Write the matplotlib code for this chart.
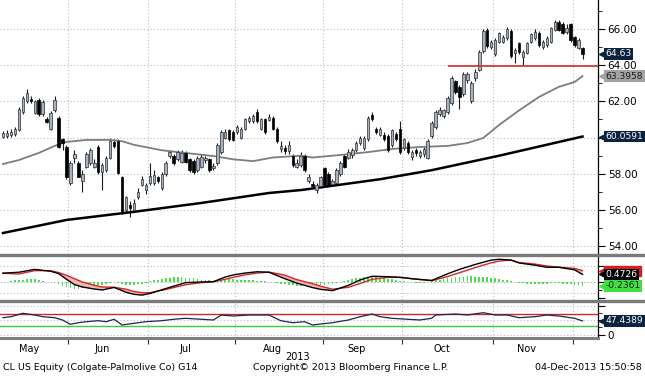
import matplotlib
matplotlib.use("Agg")
import matplotlib.pyplot as plt
import matplotlib.transforms as mtransforms
from matplotlib.lines import Line2D
from matplotlib.patches import Rectangle
import numpy as np
import pandas as pd

# trading days shown (8 May 2013 - 4 Dec 2013, US market holidays removed)
holidays = pd.to_datetime(["2013-05-27", "2013-07-04", "2013-09-02", "2013-11-28"])
dates = pd.bdate_range("2013-05-08", "2013-12-04")
dates = dates[~dates.isin(holidays)]

# daily OHLC
opens = [60.05, 60.1, 60.15, 60.2, 60.4, 61.4, 62.0, 62.15, 61.35, 62.05, 61.3, 61.0, 60.5, 61.5, 61.1, 59.9,
         59.5, 57.5, 58.9, 58.6, 57.6, 58.4, 58.6, 58.4, 59.5, 58.1, 58.2, 58.9, 59.75, 59.8, 57.8,
         56.0, 56.3, 56.0, 56.7, 57.4, 57.1, 57.5, 57.5, 57.8, 57.2, 58.0, 59.0, 59.0, 58.8, 58.65, 59.15,
         58.8, 58.7, 58.2, 58.4, 58.75, 58.8, 58.3, 58.6, 59.2, 60.0, 60.4, 60.3, 60.3,
         60.0, 60.5, 60.9, 60.9, 61.4, 60.5, 61.0, 60.95, 61.1, 60.5, 59.35, 59.4, 59.25, 59.0, 58.4,
         58.5, 59.0, 57.6, 57.45, 57.1, 57.3, 58.3, 58.0, 57.45, 57.5, 58.0, 59.0, 58.9, 59.05, 59.3,
         59.7, 59.4, 59.9, 61.25, 60.5, 60.15, 60.15, 60.1, 59.6, 60.2, 60.5, 59.4, 59.7, 58.95, 59.3,
         59.0, 59.1, 58.9, 60.1, 60.6, 61.3, 61.2, 61.4, 61.9, 63.1, 62.8, 62.4, 63.2, 62.0, 63.3,
         63.75, 64.8, 65.95, 65.0, 64.6, 65.3, 65.3, 65.5, 65.9, 64.7, 65.2, 64.45, 64.7, 65.3, 65.5,
         65.8, 65.0, 65.1, 65.3, 65.95, 66.4, 66.3, 65.85, 66.3, 65.55, 64.95, 64.95]
highs = [60.35, 60.4, 60.45, 60.6, 61.7, 62.3, 62.7, 62.3, 62.1, 62.2, 62.05, 61.15, 61.45, 62.3, 61.2, 60.0,
         59.6, 58.7, 59.3, 58.7, 58.2, 59.2, 59.4, 58.8, 59.6, 58.6, 59.0, 59.95, 59.9, 59.9, 57.9,
         56.8, 56.5, 56.6, 57.2, 57.9, 57.5, 58.6, 58.2, 57.9, 58.1, 58.7, 59.3, 59.1, 59.3, 59.3, 59.25,
         58.9, 58.8, 59.0, 59.1, 59.0, 58.9, 58.6, 59.7, 60.4, 60.5, 60.5, 60.4, 60.7,
         60.6, 61.1, 61.2, 61.3, 61.6, 61.1, 61.1, 61.3, 61.2, 60.6, 59.8, 59.6, 59.8, 59.1, 58.8,
         59.2, 59.1, 58.0, 57.6, 57.5, 57.9, 58.4, 58.1, 57.7, 58.3, 58.7, 59.1, 59.35, 59.4, 59.8,
         60.1, 60.1, 61.2, 61.4, 60.6, 60.6, 60.3, 60.2, 60.5, 60.3, 60.9, 60.0, 59.8, 59.3, 59.4,
         59.3, 59.5, 59.9, 60.9, 61.5, 61.7, 61.6, 62.3, 63.4, 63.2, 62.9, 63.6, 63.6, 63.1, 63.8,
         64.85, 66.0, 66.05, 65.4, 65.5, 65.85, 65.65, 66.1, 66.0, 64.95, 65.3, 64.85, 65.3, 65.8, 66.0,
         65.9, 65.4, 65.6, 66.1, 66.5, 66.5, 66.4, 66.3, 66.35, 65.6, 65.5, 65.0]
lows = [59.95, 60.0, 60.05, 60.1, 60.35, 61.3, 61.9, 61.9, 61.3, 61.2, 61.2, 60.8, 60.4, 61.4, 59.4, 59.3,
        57.7, 57.4, 58.6, 57.8, 57.0, 58.3, 58.5, 58.3, 58.0, 57.1, 58.1, 58.8, 59.4, 58.0, 55.8,
        55.9, 55.6, 55.9, 56.6, 57.3, 56.9, 57.4, 57.4, 57.5, 57.1, 57.9, 58.9, 58.5, 58.7, 58.6, 58.6,
        58.1, 58.0, 58.1, 58.3, 58.6, 58.1, 58.2, 58.5, 59.1, 59.9, 59.8, 59.8, 60.2,
        59.9, 60.4, 60.8, 60.8, 60.8, 60.4, 60.2, 60.9, 60.4, 59.7, 59.2, 59.1, 59.1, 58.4, 58.3,
        58.4, 58.1, 57.5, 57.2, 56.95, 57.2, 57.3, 57.3, 57.3, 57.4, 57.9, 58.3, 58.8, 58.9, 59.2,
        59.6, 59.3, 59.8, 60.9, 60.2, 60.1, 59.8, 59.2, 59.5, 59.8, 59.1, 59.3, 59.1, 58.75, 59.0,
        58.9, 58.95, 58.8, 60.0, 60.5, 61.2, 61.1, 61.3, 61.8, 62.4, 61.6, 62.3, 63.0, 61.9, 63.1,
        63.7, 64.7, 64.95, 64.9, 64.5, 65.2, 65.2, 65.4, 64.4, 64.1, 64.6, 64.0, 64.6, 65.2, 65.4,
        65.0, 64.9, 65.0, 65.2, 65.9, 65.9, 65.7, 65.7, 65.3, 65.0, 64.9, 64.35]
closes = [60.25, 60.25, 60.3, 60.45, 61.6, 62.2, 62.45, 62.0, 62.0, 61.3, 61.95, 60.85, 61.35, 62.05, 59.5, 59.7,
          57.8, 58.6, 59.1, 57.85, 58.0, 59.1, 59.3, 58.6, 58.1, 58.5, 58.9, 59.8, 59.55, 58.05, 55.9,
          56.7, 56.1, 56.4, 57.0, 57.7, 57.4, 57.9, 57.95, 57.6, 58.0, 58.6, 59.2, 58.6, 59.2, 59.15, 58.65,
          58.2, 58.1, 58.9, 58.95, 58.9, 58.2, 58.45, 59.6, 60.3, 60.3, 59.9, 59.85, 60.6,
          60.5, 61.0, 61.1, 61.2, 60.9, 61.0, 60.3, 61.15, 60.5, 59.8, 59.55, 59.25, 59.6, 58.5, 58.6,
          59.0, 58.2, 57.8, 57.3, 57.4, 57.8, 57.4, 57.4, 57.6, 58.2, 58.6, 58.4, 59.2, 59.3, 59.7,
          60.0, 60.0, 61.1, 61.0, 60.3, 60.45, 59.9, 59.3, 60.4, 59.9, 59.2, 59.9, 59.2, 59.2, 59.15,
          59.2, 59.35, 59.8, 60.8, 61.4, 61.55, 61.5, 62.2, 63.3, 62.5, 62.25, 63.5, 63.5, 63.0, 63.6,
          64.75, 65.9, 65.05, 65.3, 65.4, 65.75, 65.55, 66.0, 64.5, 64.85, 64.75, 64.75, 65.2, 65.7, 65.85,
          65.1, 65.3, 65.5, 66.05, 66.4, 65.95, 65.8, 66.05, 65.4, 65.1, 65.4, 64.63]

# moving averages (sparse readings: day index, value)
ma_grey_idx = [0, 4, 9, 13, 16, 21, 27, 30, 33, 40, 46, 53, 58, 63, 68, 75, 78, 85, 92, 98, 105, 112,
               117, 121, 125, 130, 135, 140, 144, 146]
ma_grey_val = [58.54, 58.76, 59.15, 59.54, 59.76, 59.87, 59.87, 59.8, 59.6, 59.3, 59.15, 58.98, 58.8,
               58.7, 58.9, 59.0, 58.9, 59.04, 59.2, 59.37, 59.48, 59.54, 59.7, 59.98, 60.7, 61.5, 62.24,
               62.8, 63.07, 63.3958]
ma_black_idx = [0, 16, 33, 50, 67, 75, 95, 108, 125, 146]
ma_black_val = [54.73, 55.45, 55.9, 56.39, 56.94, 57.1, 57.7, 58.2, 59.0, 60.0591]
support_level = 63.95
support_start = 112

# MACD panel
macd_idx = [0, 4, 8, 12, 14, 16, 18, 20, 23, 25, 28, 31, 33, 35, 37, 41, 46, 50, 53, 56, 58, 61, 64, 67,
            71, 74, 78, 80, 83, 87, 90, 93, 97, 100, 104, 108, 112, 115, 119, 123, 125, 128, 130, 134,
            137, 140, 144, 146]
macd_val = [0.55, 0.61, 0.79, 0.67, 0.53, 0.17, -0.16, -0.31, -0.44, -0.50, -0.34, -0.64, -0.77, -0.82,
            -0.72, -0.41, -0.04, 0.0, 0.02, 0.31, 0.44, 0.56, 0.64, 0.61, 0.21, -0.07, -0.35, -0.46,
            -0.54, -0.21, 0.13, 0.36, 0.33, 0.29, 0.18, 0.10, 0.51, 0.79, 1.10, 1.37, 1.42, 1.37, 1.19,
            1.05, 0.92, 0.92, 0.76, 0.4726]
signal_val = [0.55, 0.50, 0.71, 0.71, 0.59, 0.42, 0.21, 0.0, -0.21, -0.31, -0.33, -0.45, -0.59, -0.67,
              -0.67, -0.47, -0.17, -0.04, 0.02, 0.17, 0.29, 0.45, 0.56, 0.62, 0.43, 0.15, -0.11, -0.26,
              -0.45, -0.33, -0.09, 0.17, 0.29, 0.29, 0.18, 0.08, 0.34, 0.58, 0.90, 1.20, 1.31, 1.37, 1.22,
              1.12, 1.00, 0.93, 0.85, 0.7087]
hist_val = [0.02, 0.02, 0.06, 0.1, 0.12, 0.15, 0.17, 0.18, 0.16, 0.12, 0.08, 0.03, -0.02, -0.06,
            -0.15, -0.25, -0.33, -0.38, -0.42, -0.42, -0.40, -0.36, -0.3, -0.25, -0.2, -0.16, -0.1, -0.05,
            -0.02, -0.08, -0.15, -0.18, -0.2, -0.18, -0.15, -0.1, -0.05,
            0.05, 0.1, 0.15, 0.2, 0.24, 0.28, 0.3, 0.31, 0.3, 0.28, 0.25, 0.22, 0.18, 0.15, 0.12, 0.1, 0.08,
            0.1, 0.13, 0.15, 0.16, 0.16, 0.15, 0.14, 0.13, 0.12, 0.1, 0.09, 0.07, 0.05, 0.03, 0.0,
            -0.05, -0.1, -0.14, -0.17, -0.2, -0.22, -0.24, -0.25, -0.25, -0.24, -0.22, -0.2, -0.17, -0.14,
            -0.1, -0.06,
            0.0, 0.05, 0.12, 0.18, 0.24, 0.28, 0.3, 0.32, 0.32, 0.3, 0.27, 0.24, 0.2, 0.16, 0.12, 0.08,
            0.05, 0.02,
            -0.03, -0.05, -0.06, -0.05, -0.02,
            0.04, 0.1, 0.15, 0.2, 0.24, 0.28, 0.3, 0.32, 0.34, 0.35, 0.35, 0.34, 0.33, 0.32, 0.3, 0.27,
            0.24, 0.2, 0.15, 0.1, 0.05, 0.0,
            -0.05, -0.08, -0.1, -0.12, -0.13, -0.13, -0.12, -0.1, -0.08, -0.07, -0.08, -0.1, -0.12, -0.15,
            -0.18, -0.21, -0.2361]

# RSI panel
rsi_idx = [0, 2, 5, 8, 10, 13, 15, 17, 19, 21, 24, 26, 28, 30, 33, 36, 40, 43, 46, 50, 53, 55, 58, 62,
           67, 70, 73, 76, 78, 80, 83, 87, 90, 93, 95, 98, 102, 105, 108, 109, 114, 117, 121, 124, 127,
           130, 134, 137, 140, 144, 146]
rsi_val = [58.5, 61.9, 73.5, 67.7, 61.9, 58.5, 50.6, 35.9, 41.4, 44.8, 48.2, 44.8, 53.0, 33.5, 39.3,
           44.8, 48.2, 53.0, 56.4, 53.0, 50.6, 67.7, 64.3, 67.7, 67.7, 48.2, 41.4, 44.8, 33.5, 36.9,
           41.4, 50.6, 61.9, 71.1, 61.9, 56.4, 53.0, 50.6, 56.4, 67.7, 71.1, 67.7, 75.6, 67.7, 67.7,
           58.5, 61.9, 67.7, 64.3, 56.4, 47.4389]

n = len(dates)
x = np.arange(n)
o, h, l, c = map(np.array, (opens, highs, lows, closes))

plt.rcParams["font.family"] = "DejaVu Sans"
plt.rcParams["font.size"] = 7

W, H = 645, 376
fig = plt.figure(figsize=(W / 100, H / 100), dpi=100)
fig.patch.set_facecolor("white")


def rect(top, bottom, right=598):
    return [0, 1 - bottom / H, right / W, (bottom - top) / H]


ax = fig.add_axes(rect(0, 254))
axm = fig.add_axes(rect(256, 300), sharex=ax)
axr = fig.add_axes(rect(302, 338), sharex=ax)

ax.set_xlim(-0.75, 149.9)
ax.set_ylim(53.57, 67.6)
axm.set_ylim(-1.125, 1.625)
axr.set_ylim(-10.9, 112.1)

grid_kw = dict(color="#bdbdbd", lw=0.8, ls=(0, (1, 2)), zorder=0)
month = dates.month.values
bounds = [i - 0.5 for i in range(1, n) if month[i] != month[i - 1]]
for a in (ax, axm, axr):
    for b in bounds:
        a.axvline(b, **grid_kw)
    for s in ("left", "top", "bottom"):
        a.spines[s].set_visible(False)
    a.spines["right"].set_color("black")
    a.spines["right"].set_linewidth(0.9)
    a.yaxis.tick_right()
    a.tick_params(axis="y", which="both", direction="out", color="black", pad=2, labelsize=7.5)
    a.tick_params(axis="y", which="major", length=5)
    a.tick_params(axis="y", which="minor", length=3)
    a.tick_params(axis="x", which="both", bottom=False, labelbottom=False)

# price panel
for lv in range(54, 68, 2):
    ax.axhline(lv, **grid_kw)
up = c >= o
ax.vlines(x, l, h, color="#1a1a1a", lw=0.8, zorder=2)
ax.bar(x[up], (c - o)[up], bottom=o[up], width=0.62, color="#a8b1bc", edgecolor="#2a3038",
       linewidth=0.5, zorder=3)
ax.bar(x[~up], (o - c)[~up], bottom=c[~up], width=0.62, color="black", edgecolor="black",
       linewidth=0.5, zorder=3)
ax.plot(ma_grey_idx, ma_grey_val, color="#7d7d7d", lw=1.3, zorder=2)
ax.plot(ma_black_idx, ma_black_val, color="black", lw=1.8, zorder=2)
ax.hlines(support_level, support_start, 149.9, color="#d42a2a", lw=1.2, zorder=4)
ax.set_yticks(range(54, 67, 2))
# the 60.00 label sits under the 200-day tag in the original
ax.set_yticklabels([f"{v:.2f}" if v != 60 else "" for v in range(54, 67, 2)])
ax.set_yticks(range(55, 68, 2), minor=True)

# MACD panel
mi = np.array(macd_idx)
mv = np.array(macd_val)
sv = np.array(signal_val)
axm.axhline(1.0, **grid_kw)
axm.axhline(-0.7, **grid_kw)
axm.axhline(0, color="#9ab89a", lw=0.6, ls=(0, (2, 2)), zorder=1)
axm.bar(x, hist_val, width=0.45, color="#4fdc4f", zorder=2)
axm.fill_between(mi, mv, sv, where=sv >= mv, interpolate=True, color="#f4b4b4", lw=0, zorder=2)
axm.plot(mi, sv, color="#d02828", lw=1.0, zorder=3)
axm.plot(mi, mv, color="black", lw=1.0, zorder=4)
axm.set_yticks([1.0, 0.0, -1.0])
axm.set_yticklabels([])
axm.set_yticks([0.5, -0.5], minor=True)

# RSI panel
axr.axhline(100, **grid_kw)
axr.axhline(50, **grid_kw)
axr.axhline(0, **grid_kw)
axr.axhline(70, color="#cc2a2a", lw=1.0, zorder=2)
axr.axhline(30, color="#3ccc3c", lw=1.0, zorder=2)
axr.plot(rsi_idx, rsi_val, color="#1f2452", lw=0.9, zorder=3)
axr.set_yticks([0, 50, 100])
axr.set_yticklabels(["0", "", ""])
axr.set_yticks([25, 75], minor=True)

# month axis
axr.spines["bottom"].set_visible(True)
axr.spines["bottom"].set_color("#7f7f7f")
axr.spines["bottom"].set_linewidth(2.2)
axr.set_xticks(bounds)
axr.tick_params(axis="x", which="major", bottom=True, length=4, color="#303030", labelbottom=False)
centers = []
names = []
for m in pd.unique(month):
    idx = x[month == m]
    centers.append(idx.mean() - 1.5)
    names.append(dates[idx[0]].strftime("%b"))
axr.set_xticks(centers, minor=True)
axr.set_xticklabels(names, minor=True)
axr.tick_params(axis="x", which="minor", bottom=True, length=0, labelbottom=True, pad=4, labelsize=7)
fig.text(298 / W, 1 - 357 / H, "2013", ha="center", va="center", fontsize=7)

# panel separators
for yy in (255, 301):
    fig.add_artist(Line2D([0, 1], [1 - yy / H] * 2, color="#7a7a7a", lw=2.4))


def tag(a, y, text, fc, tc):
    tr = mtransforms.blended_transform_factory(a.transAxes, a.transData)
    a.plot([1.008], [y], marker="<", ms=6, color=fc, transform=tr, clip_on=False, zorder=6)
    a.text(1.013, y, text, transform=tr, ha="left", va="center", fontsize=6.6, color=tc, zorder=7,
           bbox=dict(boxstyle="square,pad=0.15", fc=fc, ec="none"), clip_on=False)


def blank_tag(a, y, fc, height):
    tr = mtransforms.blended_transform_factory(a.transAxes, a.transData)
    a.plot([1.008], [y], marker="<", ms=6, color=fc, transform=tr, clip_on=False, zorder=5)
    a.add_patch(Rectangle((1.01, y - height / 2), 0.062, height, transform=tr, color=fc,
                          clip_on=False, zorder=5))


tag(ax, closes[-1], f"{closes[-1]:.2f}", "#0c2340", "white")
tag(ax, ma_grey_val[-1], f"{ma_grey_val[-1]:.4f}", "#a3a3a3", "#1a1a1a")
tag(ax, ma_black_val[-1], f"{ma_black_val[-1]:.4f}", "#0c2340", "white")
blank_tag(axm, signal_val[-1], "#d42020", 0.62)
tag(axm, macd_val[-1], f"{macd_val[-1]:.4f}", "black", "white")
tag(axm, hist_val[-1], f"{hist_val[-1]:.4f}", "#3fe03f", "#102010")
tag(axr, rsi_val[-1], f"{rsi_val[-1]:.4f}", "#0c2340", "white")

# footer
fy = 1 - 368 / H
fig.text(3 / W, fy, "CL US Equity (Colgate-Palmolive Co) G14", ha="left", va="center", fontsize=6.8)
fig.text(351 / W, fy, "Copyright\u00a9 2013 Bloomberg Finance L.P.", ha="center", va="center", fontsize=6.8)
fig.text(642 / W, fy, "04-Dec-2013 15:50:58", ha="right", va="center", fontsize=6.8)

fig.savefig("out.png", dpi=100, facecolor="white")
